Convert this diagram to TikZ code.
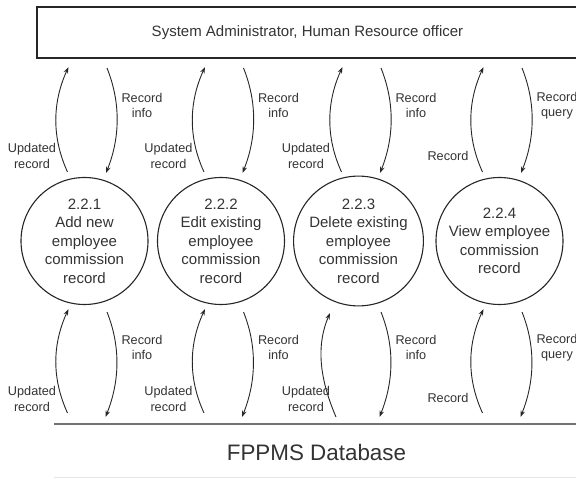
\documentclass[tikz,border=0pt]{standalone}
\usepackage{fontspec}
\setmainfont{Liberation Sans}
\usetikzlibrary{arrows.meta}
\begin{document}
\begin{tikzpicture}[x=1pt,y=-1pt,
  lbl/.style={font=\fontsize{12.7}{15.5}\selectfont, align=center, text=black!80, inner sep=0pt},
  proc/.style={draw=black!85, line width=1.1pt, circle, minimum size=127pt, inner sep=0pt, align=center, font=\fontsize{15}{18.5}\selectfont, text=black!80},
  flow/.style={draw=black!85, line width=0.9pt, -{Stealth[length=6.5pt,width=4.5pt]}},
  ext/.style={draw=black!85, line width=1.2pt, inner sep=0pt, font=\fontsize{15}{18}\selectfont, text=black!80}
]
\useasboundingbox (0,0) rectangle (576,481);
\clip (0,0) rectangle (576,481);

% external entity
\node[ext, minimum width=541pt, minimum height=51pt] (admin) at (307.5,32.5) {System Administrator, Human Resource officer};

% data store
\coordinate (dbl) at (54,424);
\coordinate (dbr) at (580,424);
\coordinate (dbbl) at (54,477);
\coordinate (dbbr) at (580,477);
\draw[black!55, line width=1.8pt] (dbl) -- (dbr);
\draw[black!10, line width=1pt] (dbbl) -- (dbbr);
\node[font=\fontsize{22.4}{26}\selectfont, text=black!80, inner sep=0pt] (db) at (316.5,452) {FPPMS Database};

% processes
\node[proc] (c1) at (84.5,241) {2.2.1\\Add new\\employee\\commission\\record};
\node[proc] (c2) at (221,241) {2.2.2\\Edit existing\\employee\\commission\\record};
\node[proc] (c3) at (358.5,241) {2.2.3\\Delete existing\\employee\\commission\\record};
\node[proc] (c4) at (499.5,241) {2.2.4\\View employee\\commission\\record};

% flow end points
\foreach \i/\cx in {1/84.5,2/221,3/358.5,4/499.5}{
  \coordinate (tus\i) at (\cx-17,172);
  \coordinate (tue\i) at (\cx-16,67);
  \coordinate (tds\i) at (\cx+22.5,68);
  \coordinate (tde\i) at (\cx+21.5,173);
  \coordinate (bus\i) at (\cx-17,413);
  \coordinate (bue\i) at (\cx-16,309);
  \coordinate (bds\i) at (\cx+22.5,312);
  \coordinate (bde\i) at (\cx+21,417);
}
\coordinate (bus3x) at (336,417);
\coordinate (bue3x) at (330,313);

% flows
\foreach \i in {1,2,3,4}{
  \draw[flow] (tus\i) .. controls +(-16,-35) and +(-16,35) .. (tue\i);
  \draw[flow] (tds\i) .. controls +(14,35) and +(14,-35) .. (tde\i);
  \draw[flow] (bds\i) .. controls +(14,35) and +(14,-35) .. (bde\i);
}
\foreach \i in {1,2,4}{
  \draw[flow] (bus\i) .. controls +(-16,-35) and +(-16,35) .. (bue\i);
}
\draw[flow] (bus3x) .. controls +(-15,-35) and +(-15,35) .. (bue3x);

% labels
\foreach \i/\cx in {1/84.5,2/221,3/358.5}{
  \node[lbl] (tul\i) at (\cx-52.5,156) {Updated\\record};
  \node[lbl] (tdl\i) at (\cx+57.5,105.5) {Record\\info};
  \node[lbl] (bul\i) at (\cx-52.5,399) {Updated\\record};
  \node[lbl] (bdl\i) at (\cx+57.5,347.5) {Record\\info};
}
\node[lbl] (tul4) at (448,156) {Record};
\node[lbl] (tdl4) at (557,105.5) {Record\\query};
\node[lbl] (bul4) at (448,398) {Record};
\node[lbl] (bdl4) at (557,347.5) {Record\\query};
\end{tikzpicture}
\end{document}
